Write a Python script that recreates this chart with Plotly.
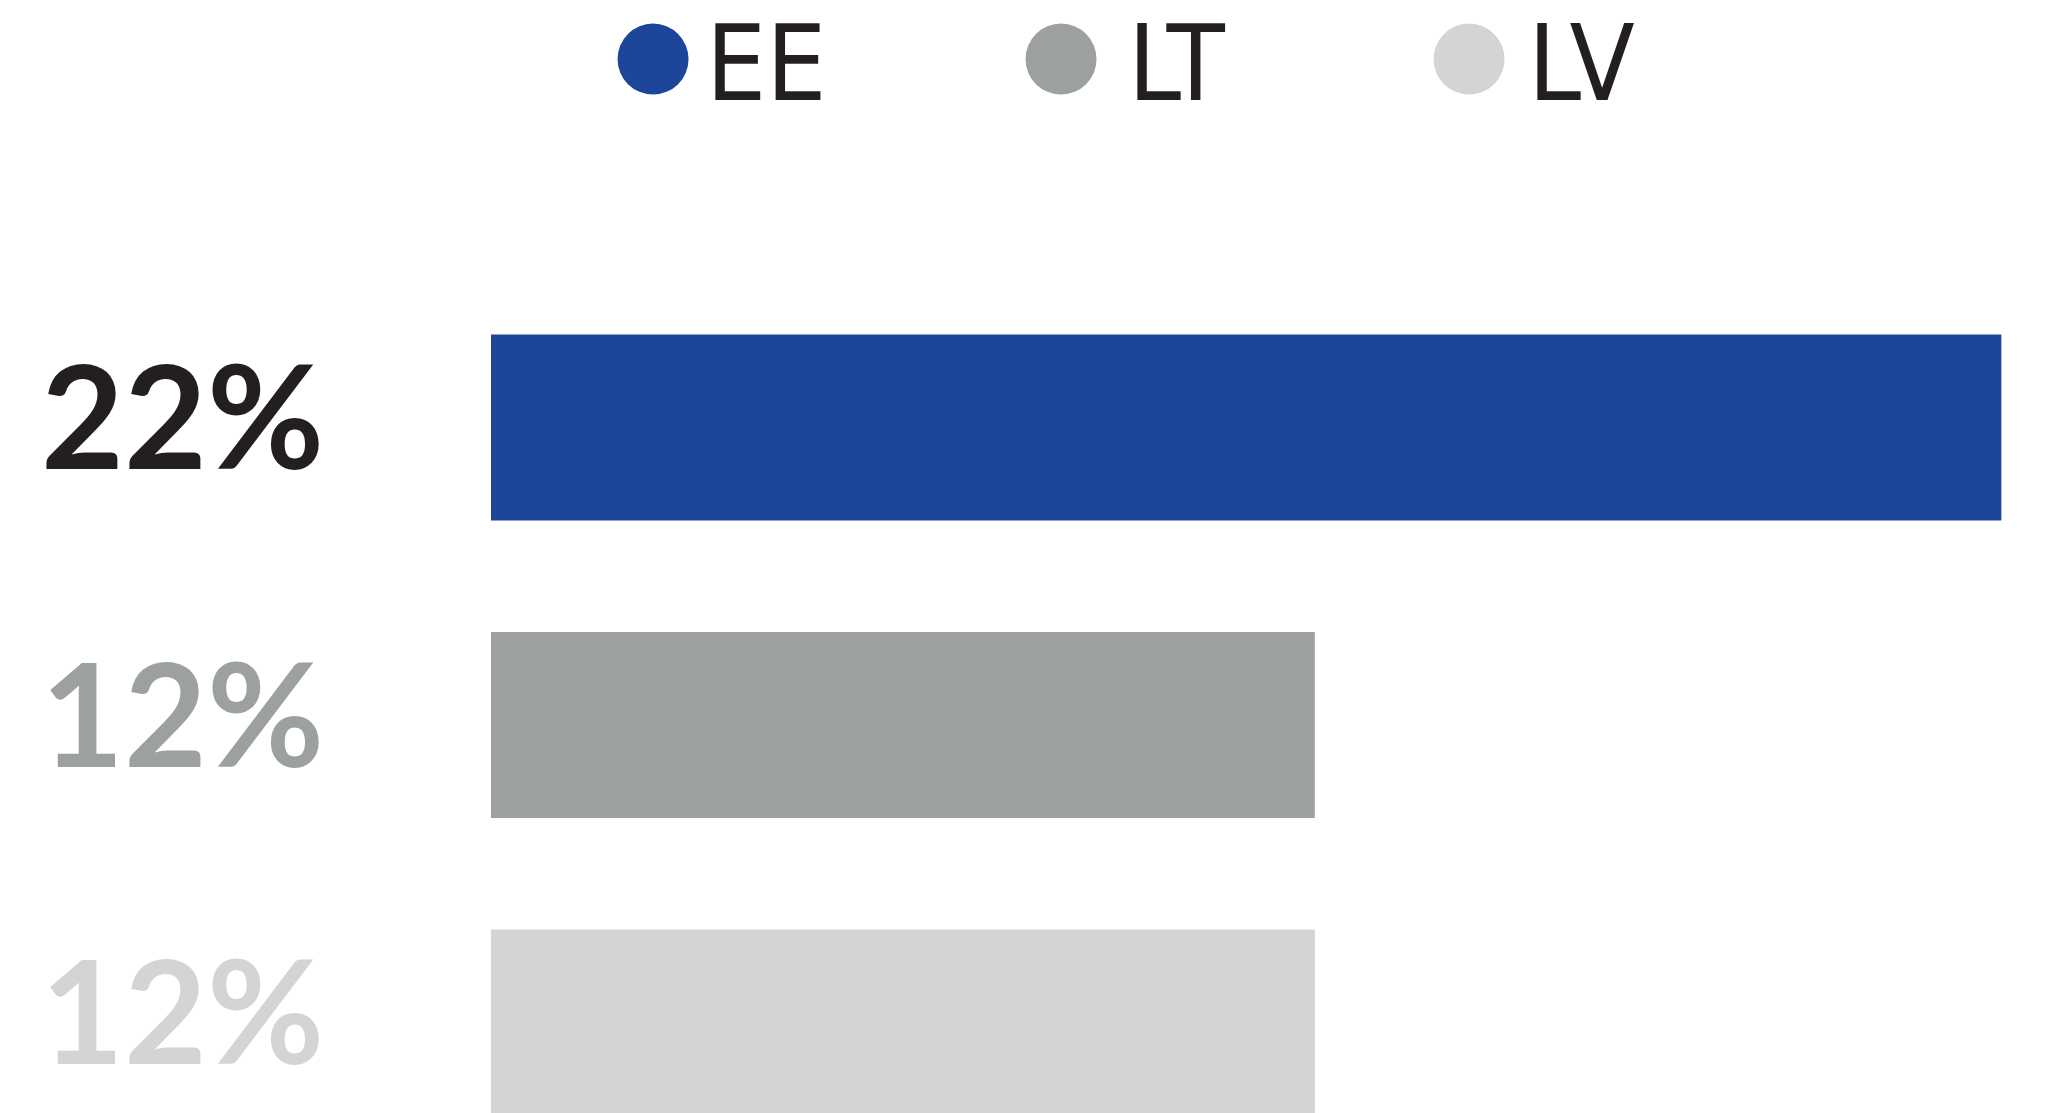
import plotly.graph_objects as go

# ---- data ----
categories = ["EE", "LT", "LV"]
values = [22, 12, 12]
value_labels = ["22%", "12%", "12%"]
bar_colors = ["#1d4599", "#9ca1a0", "#d4d4d2"]
label_colors = ["#231f20", "#9ca1a0", "#d4d4d2"]
legend_text_color = "#231f20"

# the page body has an 8px margin, so the figure is sized to fit inside it
W, H = 2062, 1105

fig = go.Figure()

# main horizontal bars
fig.add_trace(go.Bar(
    x=values, y=categories, orientation="h",
    marker=dict(color=bar_colors, line=dict(width=0)),
    width=0.625, hoverinfo="skip", showlegend=False,
))

# custom legend dots
fig.add_trace(go.Scatter(
    x=categories, y=[0] * len(categories), mode="markers",
    marker=dict(size=71, color=bar_colors, line=dict(width=0)),
    xaxis="x2", yaxis="y2", hoverinfo="skip", showlegend=False,
))

legend_shifts = [51, 65, 57]
annotations = []
for cat, xs in zip(categories, legend_shifts):
    annotations.append(dict(
        x=cat, y=0, xref="x2", yref="y2", text=cat, showarrow=False,
        xanchor="left", yanchor="middle", xshift=xs, yshift=-4,
        font=dict(family="Liberation Sans Narrow, DejaVu Sans Condensed, sans-serif",
                  size=106, color=legend_text_color),
    ))

for cat, lab, col in zip(categories, value_labels, label_colors):
    annotations.append(dict(
        x=31 / W, y=cat, xref="paper", yref="y", text=lab, showarrow=False,
        xanchor="left", yanchor="middle", yshift=14,
        font=dict(family="Lato, Inter, sans-serif", size=143, color=col, weight=700),
    ))

fig.update_layout(
    width=W, height=H,
    margin=dict(l=0, r=0, t=0, b=0),
    paper_bgcolor="white", plot_bgcolor="white",
    showlegend=False,
    xaxis=dict(domain=[483 / W, 1], range=[0, 23], visible=False, fixedrange=True),
    yaxis=dict(type="category", categoryarray=categories,
               range=[2.304, -1.410], visible=False, fixedrange=True),
    xaxis2=dict(domain=[0, 1], anchor="y2", type="category", categoryarray=categories,
                range=[-1.581, 3.473], visible=False, fixedrange=True),
    yaxis2=dict(domain=[0.91, 0.9976], anchor="x2", range=[-1, 1],
                visible=False, fixedrange=True),
    annotations=annotations,
)

fig.write_html("out.html", config={"displayModeBar": False})
